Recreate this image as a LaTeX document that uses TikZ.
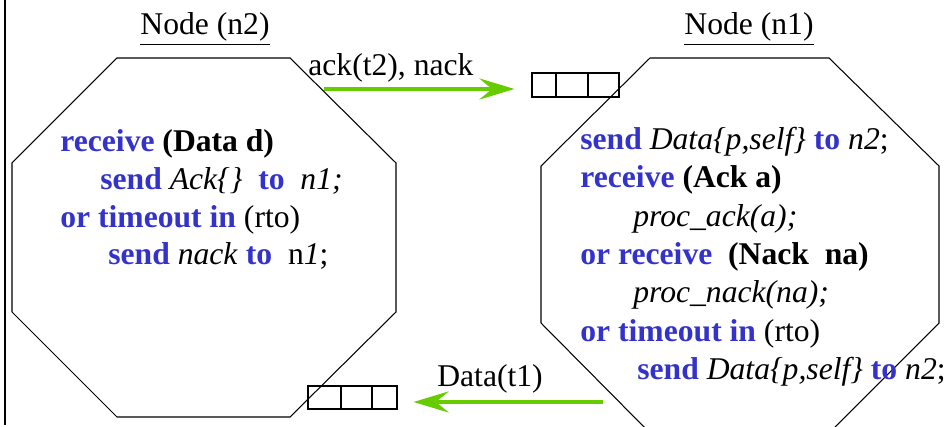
\documentclass[tikz,border=0pt]{standalone}
\usepackage{fontspec}
\setmainfont{LiberationSerif}[Extension=.ttf, UprightFont=*-Regular, BoldFont=*-Bold, ItalicFont=*-Italic, BoldItalicFont=*-BoldItalic]
\usepackage{xcolor}
\usepackage{tikz}
\usetikzlibrary{arrows.meta}
\definecolor{kwblue}{RGB}{51,51,204}
\definecolor{msggreen}{RGB}{102,204,0}
\newcommand{\kw}[1]{\textcolor{kwblue}{\textbf{#1}}}

\begin{document}
\begin{tikzpicture}[scale=0.2]
\tikzstyle{every node}+=[inner sep=0pt, font=\rmfamily\fontsize{18}{22}\selectfont]
\tikzstyle{codeline}=[anchor=base west]
\tikzstyle{cell}=[draw, line width=0.6pt, minimum height=0.48cm]
\tikzstyle{msgarrow}=[draw=msggreen, line width=2.3pt, -{Stealth[length=0.7cm,width=0.42cm,inset=0.25cm]}]
\clip (0,0) rectangle (95,-42.7);
\draw [black, line width=1.7pt] (0.5,0) -- (0.5,-42.5);
\draw [black, line width=0.6pt] (11.7,-5.8) -- (29,-5.8) -- (39.6,-16.3) -- (39.6,-31.2) -- (29,-41.7) -- (11.7,-41.7) -- (1.2,-31.2) -- (1.2,-16.3) -- cycle;
\draw [black, line width=0.6pt] (65,-5.8) -- (82.9,-5.8) -- (93.9,-16.6) -- (93.9,-32.3) -- (83.1,-43.1) -- (64.8,-43.1) -- (54.1,-32.3) -- (54.1,-16.6) -- cycle;
\node (t2) at (20.5,-3.5) [anchor=base] {\underline{Node (n2)}};
\node (t1) at (74.9,-3.5) [anchor=base] {\underline{Node (n1)}};
\node (q1a) at (54.4,-8.5) [cell, minimum width=0.48cm] {};
\node (q1b) at (57.2,-8.5) [cell, minimum width=0.64cm, line width=1pt] {};
\node (q1c) at (60.35,-8.5) [cell, minimum width=0.62cm] {};
\node (q2a) at (32.45,-39.75) [cell, minimum width=0.66cm, minimum height=0.46cm] {};
\node (q2b) at (35.65,-39.75) [cell, minimum width=0.62cm, minimum height=0.46cm, line width=1pt] {};
\node (q2c) at (38.45,-39.75) [cell, minimum width=0.5cm, minimum height=0.46cm] {};
\coordinate (ackfrom) at (32.4,-8.9);
\draw [msgarrow, shorten >=0.34cm] (ackfrom) -- (ackfrom -| q1a.west);
\node (ack) at (30.8,-7.6) [codeline] {ack(t2), nack};
\coordinate (datafrom) at (60.3,-40.2);
\draw [msgarrow, shorten >=0.32cm] (datafrom) -- (datafrom -| q2c.east);
\node (data) at (43.7,-38.7) [codeline] {Data(t1)};
\node (r1) at (6,-15.2) [codeline] {\kw{receive} \textbf{(Data d)}};
\node (r2) at (10,-19) [codeline] {\kw{send} \textit{Ack\{\}}~ \kw{to}~ \textit{n1;}};
\node (r3) at (6,-22.8) [codeline] {\kw{or timeout in} (rto)};
\node (r4) at (10.8,-26.5) [codeline] {\kw{send} \textit{nack} \kw{to}~ n\textit{1};};
\node (s1) at (58,-15) [codeline] {\kw{send} \textit{Data\{p,self\}} \kw{to} \textit{n2};};
\node (s2) at (58,-18.8) [codeline] {\kw{receive} \textbf{(Ack a)}};
\node (s3) at (63.3,-22.7) [codeline] {\textit{proc\_ack(a);}};
\node (s4) at (58,-26.5) [codeline] {\kw{or receive}~ \textbf{(Nack~ na)}};
\node (s5) at (63.3,-30.3) [codeline] {\textit{proc\_nack(na);}};
\node (s6) at (58,-34.2) [codeline] {\kw{or timeout in} (rto)};
\node (s7) at (63.7,-38) [codeline] {\kw{send} \textit{Data\{p,self\}} \kw{to} \textit{n2};};
\end{tikzpicture}
\end{document}
